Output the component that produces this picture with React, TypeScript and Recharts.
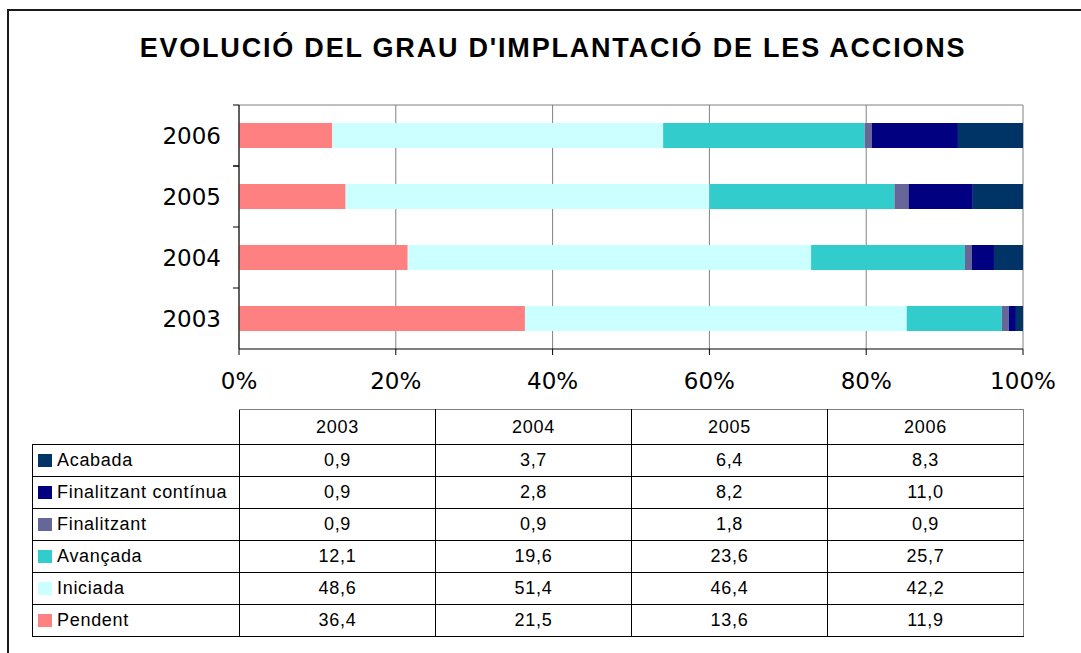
import React from 'react';
import { BarChart, Bar, XAxis, YAxis, CartesianGrid } from 'recharts';

const years = ['2003', '2004', '2005', '2006'];
const pendent = [36.4, 21.5, 13.6, 11.9];
const iniciada = [48.6, 51.4, 46.4, 42.2];
const avancada = [12.1, 19.6, 23.6, 25.7];
const finalitzant = [0.9, 0.9, 1.8, 0.9];
const finalitzantContinua = [0.9, 2.8, 8.2, 11.0];
const acabada = [0.9, 3.7, 6.4, 8.3];
const xTicks = [0, 0.2, 0.4, 0.6, 0.8, 1];

const title = "EVOLUCIÓ DEL GRAU D'IMPLANTACIÓ DE LES ACCIONS";

const series = [
  { key: 'pendent', name: 'Pendent', values: pendent, color: '#FF8080' },
  { key: 'iniciada', name: 'Iniciada', values: iniciada, color: '#CCFFFF' },
  { key: 'avancada', name: 'Avançada', values: avancada, color: '#33CCCC' },
  { key: 'finalitzant', name: 'Finalitzant', values: finalitzant, color: '#666699' },
  { key: 'finalitzantContinua', name: 'Finalitzant contínua', values: finalitzantContinua, color: '#000080' },
  { key: 'acabada', name: 'Acabada', values: acabada, color: '#003366' },
];

const chartData = years.map((year, i) => {
  const row: Record<string, any> = { year };
  series.forEach((s) => {
    row[s.key] = s.values[i];
  });
  return row;
});

const TICK_SIZE = 6;
const TICK_MARGIN = 12;
const AXIS_FONT = '"DejaVu Sans", Verdana, sans-serif';
const TABLE_FONT = '"Liberation Sans", Arial, sans-serif';

const YTick = (props: any) => {
  const { x, y, payload, index, visibleTicksCount, height } = props;
  const axisX = x + TICK_SIZE + TICK_MARGIN;
  const half = height / visibleTicksCount / 2;
  const isLast = index === visibleTicksCount - 1;
  return (
    <g>
      <text
        x={x}
        y={y}
        dy="0.355em"
        textAnchor="end"
        fill="#000"
        fontSize={23}
        fontFamily={AXIS_FONT}
      >
        {payload.value}
      </text>
      {Number.isFinite(half) && (
        <line x1={axisX - TICK_SIZE} x2={axisX} y1={y - half} y2={y - half} stroke="#000" />
      )}
      {Number.isFinite(half) && isLast && (
        <line x1={axisX - TICK_SIZE} x2={axisX} y1={y + half} y2={y + half} stroke="#000" />
      )}
    </g>
  );
};

const fmt = (v: number) => v.toFixed(1).replace('.', ',');

const tableRows = [...series].reverse();

export default function App() {
  const cellBorder = '1px solid #000';
  return (
    <div
      style={{
        position: 'absolute',
        left: 0,
        top: 0,
        width: 1081,
        height: 653,
        overflow: 'hidden',
        background: '#fff',
      }}
    >
      <div
        style={{
          position: 'absolute',
          left: 7,
          top: 9,
          width: 1200,
          height: 800,
          borderLeft: '2px solid #1a1a1a',
          borderTop: '2px solid #1a1a1a',
        }}
      />
      <div
        style={{
          position: 'absolute',
          left: 0,
          top: 35,
          width: 1106,
          textAlign: 'center',
          fontFamily: TABLE_FONT,
          fontWeight: 'bold',
          fontSize: 27,
          lineHeight: '27px',
          letterSpacing: '1.8px',
          color: '#000',
          whiteSpace: 'nowrap',
        }}
      >
        {title}
      </div>
      <div style={{ position: 'absolute', left: 0, top: 1 }}>
        <BarChart
          width={1081}
          height={420}
          data={chartData}
          layout="vertical"
          stackOffset="expand"
          margin={{ top: 104, right: 58, bottom: 22, left: 0 }}
        >
          <CartesianGrid
            stroke="#808080"
            horizontalCoordinatesGenerator={(p: any) => [p.offset.top]}
          />
          <XAxis
            type="number"
            domain={[0, 1]}
            ticks={xTicks}
            tickFormatter={(v: number) => `${Math.round(v * 100)}%`}
            height={50}
            tickSize={6}
            tickMargin={18}
            axisLine={{ stroke: '#000' }}
            tickLine={{ stroke: '#000' }}
            tick={{ fill: '#000', fontSize: 23, fontFamily: AXIS_FONT }}
            interval={0}
          />
          <YAxis
            type="category"
            dataKey="year"
            reversed
            width={239}
            tickSize={TICK_SIZE}
            tickMargin={TICK_MARGIN}
            tickLine={false}
            axisLine={{ stroke: '#000' }}
            tick={<YTick />}
            interval={0}
          />
          {series.map((s) => (
            <Bar
              key={s.key}
              dataKey={s.key}
              name={s.name}
              stackId="a"
              fill={s.color}
              barSize={25}
              isAnimationActive={false}
            />
          ))}
        </BarChart>
      </div>
      <table
        style={{
          position: 'absolute',
          left: 32,
          top: 409,
          width: 992,
          borderCollapse: 'collapse',
          tableLayout: 'fixed',
          fontFamily: TABLE_FONT,
          fontSize: 18,
          letterSpacing: '0.7px',
          color: '#000',
        }}
      >
        <colgroup>
          <col style={{ width: 207 }} />
          {years.map((y) => (
            <col key={y} style={{ width: 196 }} />
          ))}
        </colgroup>
        <thead>
          <tr style={{ height: 35 }}>
            <th style={{ border: 'none', padding: 0 }} />
            {years.map((y, i) => (
              <th
                key={y}
                style={{
                  fontWeight: 'normal',
                  padding: 0,
                  textAlign: 'center',
                  borderTop: '1px solid #808080',
                  borderLeft: cellBorder,
                  borderRight: i === years.length - 1 ? '1px solid #808080' : cellBorder,
                  borderBottom: cellBorder,
                }}
              >
                {y}
              </th>
            ))}
          </tr>
        </thead>
        <tbody>
          {tableRows.map((s) => (
            <tr key={s.key} style={{ height: 32 }}>
              <td
                style={{
                  border: cellBorder,
                  padding: '0 0 0 5px',
                  whiteSpace: 'nowrap',
                  overflow: 'hidden',
                }}
              >
                <span
                  style={{
                    display: 'inline-block',
                    width: 14,
                    height: 13,
                    background: s.color,
                    marginRight: 5,
                    verticalAlign: '-1px',
                  }}
                />
                {s.name}
              </td>
              {s.values.map((v, i) => (
                <td
                  key={i}
                  style={{
                    border: cellBorder,
                    borderRight: i === s.values.length - 1 ? '1px solid #808080' : cellBorder,
                    padding: 0,
                    textAlign: 'center',
                  }}
                >
                  {fmt(v)}
                </td>
              ))}
            </tr>
          ))}
        </tbody>
      </table>
    </div>
  );
}
